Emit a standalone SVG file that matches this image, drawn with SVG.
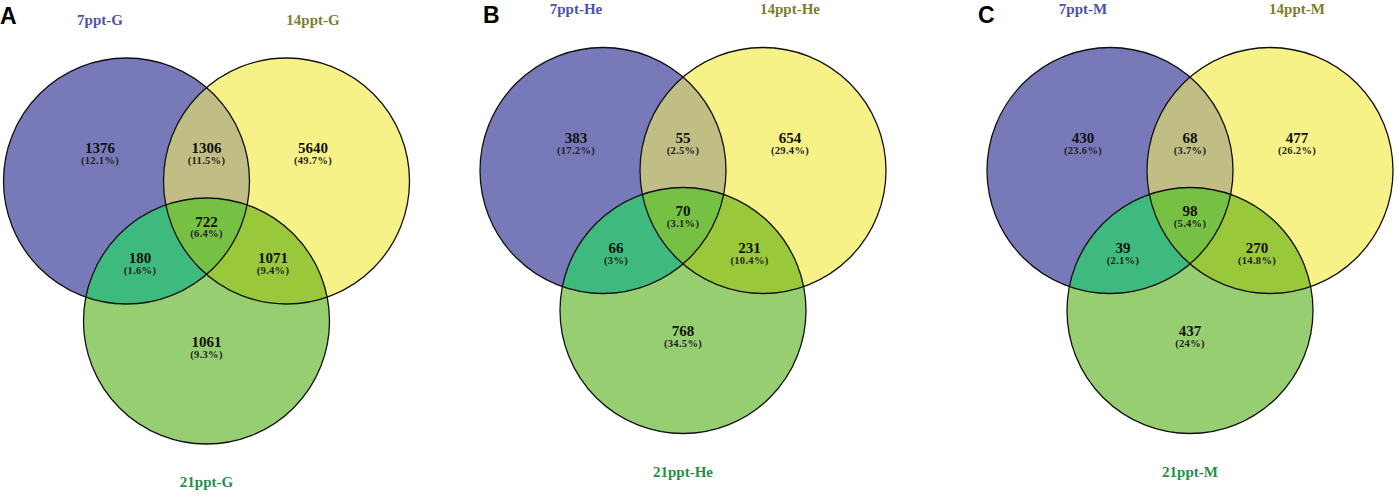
<svg xmlns="http://www.w3.org/2000/svg" width="1397" height="495" viewBox="0 0 1397 495">
<style>
.b{fill:#7779b9}.y{fill:#f7f287}.g{fill:#98ce72}
.by{fill:#c0bd85}.bg{fill:#3fba7e}.yg{fill:#9ac83b}.c{fill:#76c043}
.o{fill:none;stroke:#111;stroke-width:1.3}
.n{font-family:"Liberation Serif",serif;font-weight:bold;font-size:15px;text-anchor:middle;fill:#111}
.p{font-family:"Liberation Serif",serif;font-weight:bold;font-size:10.5px;text-anchor:middle;fill:#222;letter-spacing:0.3px}
.t{font-family:"Liberation Serif",serif;font-weight:bold;font-size:15px;text-anchor:middle}
.tb{fill:#4b54a8}.ty{fill:#7f7d2c}.tg{fill:#1f9048}
.L{font-family:"Liberation Sans",Arial,sans-serif;font-weight:bold;font-size:23px;fill:#000}
</style>
<defs>
<clipPath id="cB"><circle cx="-80" cy="0" r="123"/></clipPath>
<clipPath id="cY"><circle cx="80" cy="0" r="123"/></clipPath>
<g id="regions">
<circle class="b" cx="-80" cy="0" r="123"/>
<circle class="y" cx="80" cy="0" r="123"/>
<circle class="g" cx="0" cy="140" r="123"/>
<circle class="by" cx="80" cy="0" r="123" clip-path="url(#cB)"/>
<circle class="bg" cx="0" cy="140" r="123" clip-path="url(#cB)"/>
<circle class="yg" cx="0" cy="140" r="123" clip-path="url(#cY)"/>
<g clip-path="url(#cY)"><circle class="c" cx="0" cy="140" r="123" clip-path="url(#cB)"/></g>
<circle class="o" cx="-80" cy="0" r="123"/>
<circle class="o" cx="80" cy="0" r="123"/>
<circle class="o" cx="0" cy="140" r="123"/>
</g>
</defs>

<g id="panelA" transform="translate(206.5,181)">
<use href="#regions"/>
<text class="t tb" x="-106.5" y="-156">7ppt-G</text>
<text class="t ty" x="106.5" y="-156">14ppt-G</text>
<text class="t tg" x="0" y="306">21ppt-G</text>
<g id="A1"><text class="n" x="-106.5" y="-28">1376</text><text class="p" x="-106.5" y="-17">(12.1%)</text></g>
<g id="A2"><text class="n" x="0" y="-28">1306</text><text class="p" x="0" y="-17">(11.5%)</text></g>
<g id="A3"><text class="n" x="106.5" y="-28">5640</text><text class="p" x="106.5" y="-17">(49.7%)</text></g>
<g id="A4"><text class="n" x="0" y="45.5">722</text><text class="p" x="0" y="56">(6.4%)</text></g>
<g id="A5"><text class="n" x="-66.5" y="82">180</text><text class="p" x="-66.5" y="93">(1.6%)</text></g>
<g id="A6"><text class="n" x="66.5" y="82">1071</text><text class="p" x="66.5" y="93">(9.4%)</text></g>
<g id="A7"><text class="n" x="0" y="166">1061</text><text class="p" x="0" y="177">(9.3%)</text></g>
</g>
<text class="L" x="0" y="24">A</text>

<g id="panelB" transform="translate(683,170.5)">
<use href="#regions"/>
<text class="t tb" x="-107" y="-156.5">7ppt-He</text>
<text class="t ty" x="107" y="-156.5">14ppt-He</text>
<text class="t tg" x="0" y="306.5">21ppt-He</text>
<g id="B1"><text class="n" x="-107" y="-28">383</text><text class="p" x="-107" y="-17">(17.2%)</text></g>
<g id="B2"><text class="n" x="0" y="-28">55</text><text class="p" x="0" y="-17">(2.5%)</text></g>
<g id="B3"><text class="n" x="107" y="-28">654</text><text class="p" x="107" y="-17">(29.4%)</text></g>
<g id="B4"><text class="n" x="0" y="45">70</text><text class="p" x="0" y="56">(3.1%)</text></g>
<g id="B5"><text class="n" x="-67" y="82.5">66</text><text class="p" x="-67" y="93.5">(3%)</text></g>
<g id="B6"><text class="n" x="66.5" y="82.5">231</text><text class="p" x="66.5" y="93.5">(10.4%)</text></g>
<g id="B7"><text class="n" x="0" y="165">768</text><text class="p" x="0" y="176">(34.5%)</text></g>
</g>
<text class="L" x="483" y="23">B</text>

<g id="panelC" transform="translate(1190,170.5)">
<use href="#regions"/>
<text class="t tb" x="-107" y="-156.5">7ppt-M</text>
<text class="t ty" x="107" y="-156.5">14ppt-M</text>
<text class="t tg" x="0" y="306.5">21ppt-M</text>
<g id="C1"><text class="n" x="-107" y="-28">430</text><text class="p" x="-107" y="-17">(23.6%)</text></g>
<g id="C2"><text class="n" x="0" y="-28">68</text><text class="p" x="0" y="-17">(3.7%)</text></g>
<g id="C3"><text class="n" x="107" y="-28">477</text><text class="p" x="107" y="-17">(26.2%)</text></g>
<g id="C4"><text class="n" x="0" y="45">98</text><text class="p" x="0" y="56">(5.4%)</text></g>
<g id="C5"><text class="n" x="-67" y="82.5">39</text><text class="p" x="-67" y="93.5">(2.1%)</text></g>
<g id="C6"><text class="n" x="67" y="82.5">270</text><text class="p" x="67" y="93.5">(14.8%)</text></g>
<g id="C7"><text class="n" x="0" y="165">437</text><text class="p" x="0" y="176">(24%)</text></g>
</g>
<text class="L" x="978" y="23">C</text>
</svg>
